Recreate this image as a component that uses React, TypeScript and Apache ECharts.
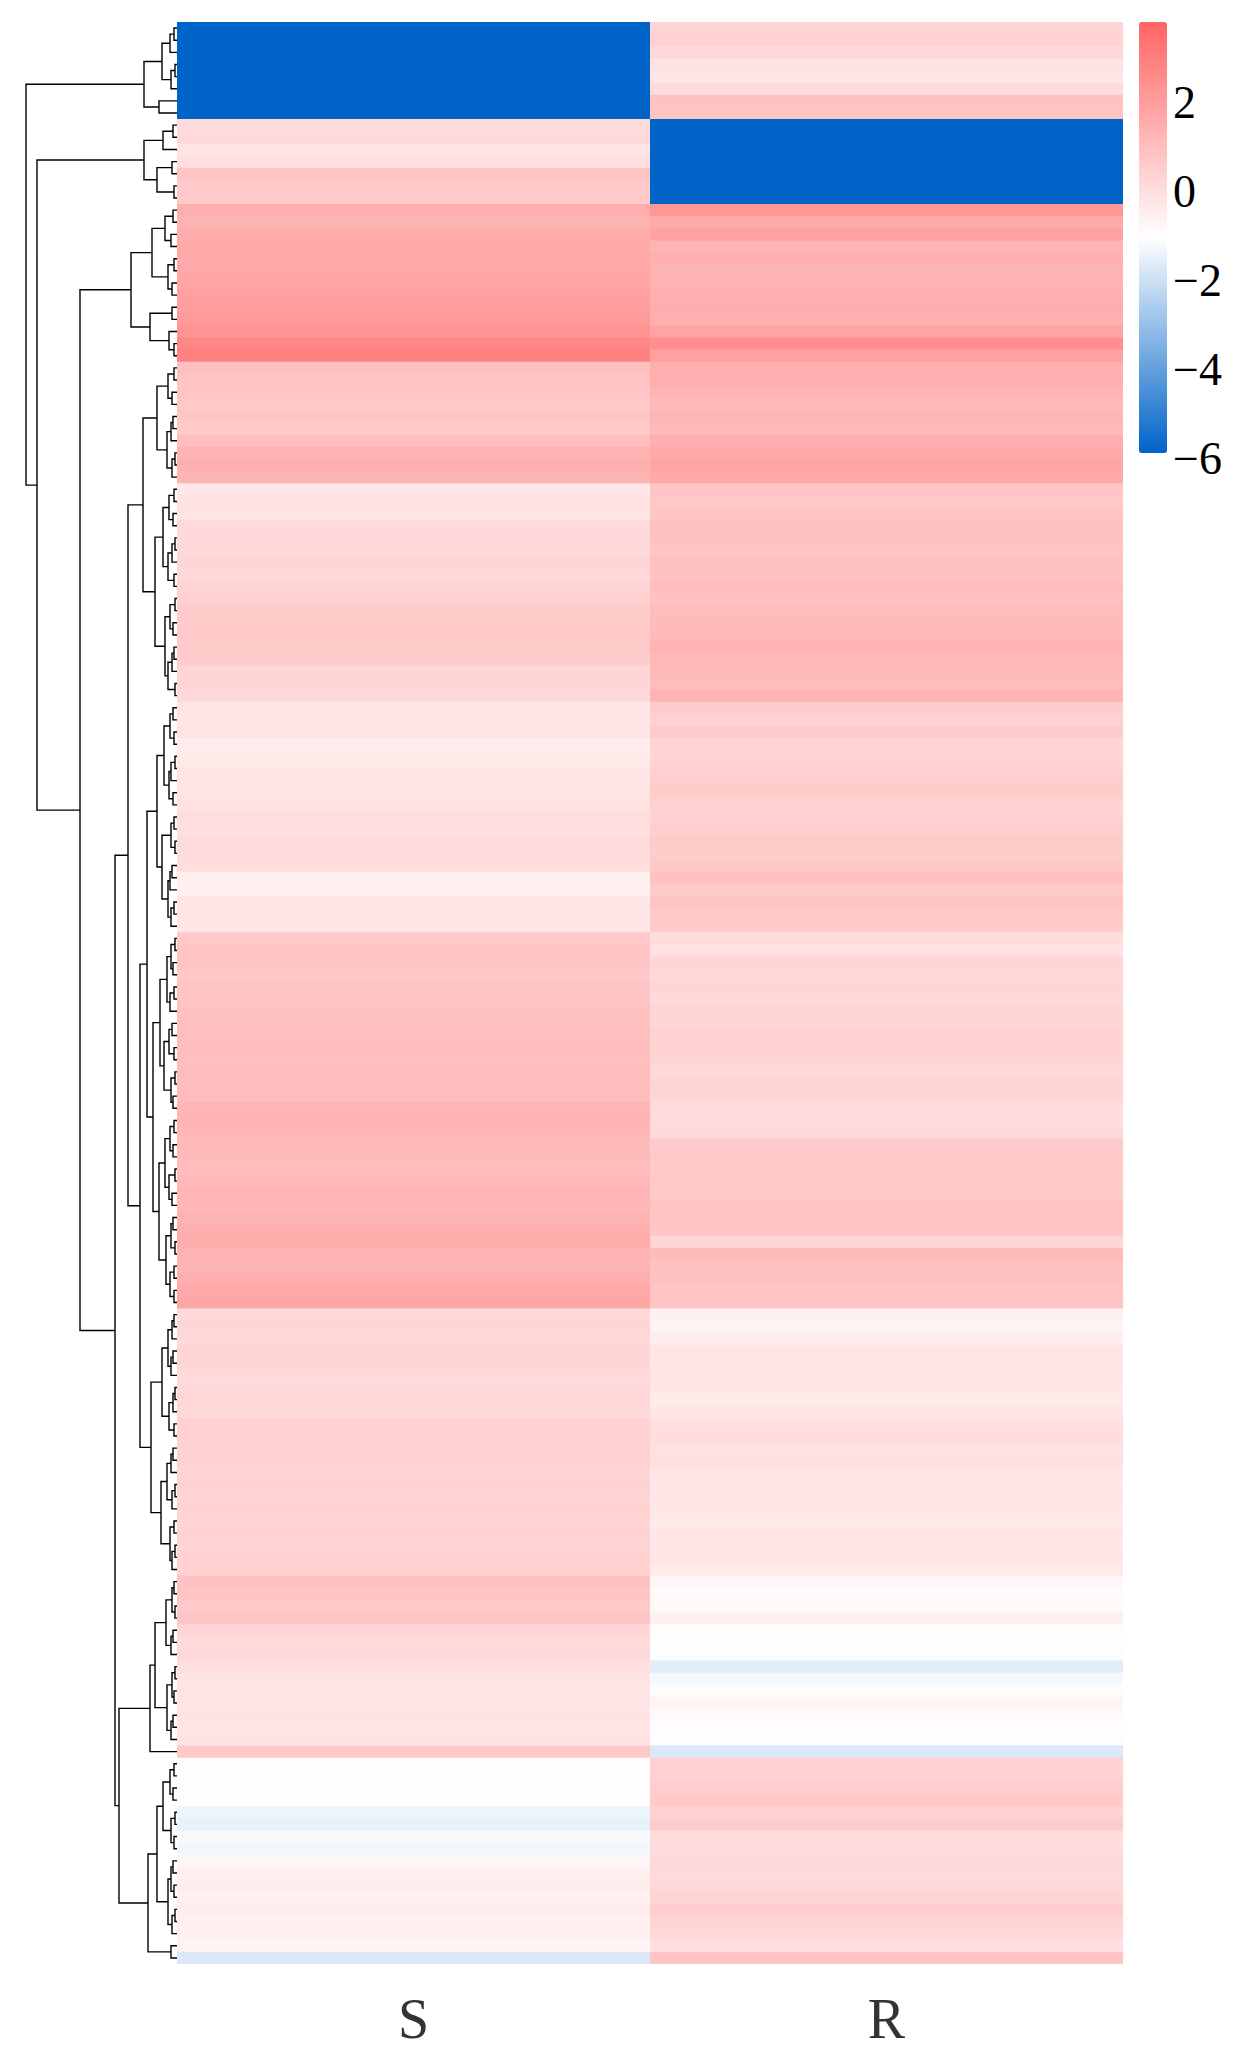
import React, { useEffect, useRef } from 'react';
import * as echarts from 'echarts';

// ---------- data ----------
const COLUMNS = ['S', 'R'];

const S_VALUES = [
  -5.9, -5.9, -5.9, -5.9, -5.9, -5.9, -5.9, -5.9,
  0.05, 0.15, -0.25, -0.05, 0.8, 0.6, 0.65,
  1.5, 1.3, 1.55, 1.65, 1.6, 1.7, 1.7, 1.9, 2.0, 2.1, 2.3, 2.75, 2.9,
  0.95, 0.8, 0.75, 0.65, 0.75, 0.6, 0.95, 1.3, 1.45, 1.3,
  -0.3, -0.15, -0.2, 0.1, 0.15, 0.15, 0.25, 0.15, 0.3, 0.4, 0.6, 0.55, 0.65, 0.6, 0.55, 0.3, 0.25, 0.15,
  -0.25, -0.3, -0.2, -0.5, -0.4, -0.3, -0.25, -0.2, -0.15, 0.0, -0.05, 0.05, 0.05, 0.0, -0.55, -0.6, -0.3, -0.25, -0.3,
  0.65, 0.8, 0.75, 0.65, 0.75, 0.8, 0.85, 0.95, 0.95, 1.0, 0.95, 1.05, 1.0, 1.05, 1.25, 1.3, 1.2, 1.1, 1.1, 1.05, 1.15, 1.25, 1.2, 1.3, 1.5, 1.55, 1.35, 1.3, 1.45, 1.65, 1.7,
  0.15, 0.25, 0.15, 0.25, 0.3, 0.1, 0.15, 0.25, 0.15, 0.4, 0.4, 0.35, 0.4, 0.3, 0.35, 0.3, 0.4, 0.3, 0.35, 0.3, 0.4, 0.35,
  0.85, 0.75, 0.65, 0.8, 0.25, 0.1, 0.15, -0.05, -0.2, -0.2, -0.25, -0.15, -0.25, -0.15, 0.65,
  -0.95, -1.0, -0.95, -1.1, -1.4, -1.5, -1.2, -1.3, -0.8, -0.55, -0.5, -0.6, -0.5, -0.55, -0.6, -0.7, -1.75,
];

const R_VALUES = [
  0.3, 0.4, 0.15, -0.15, -0.25, 0.05, 0.9, 0.75,
  -5.9, -5.9, -5.9, -5.9, -5.9, -5.9, -5.9,
  2.2, 1.65, 1.9, 1.3, 1.45, 1.25, 1.3, 1.45, 1.55, 1.45, 1.8, 2.5, 1.9,
  1.45, 1.5, 1.3, 1.15, 1.25, 1.15, 1.45, 1.65, 1.8, 1.65,
  0.8, 0.65, 0.8, 0.85, 0.9, 0.8, 0.9, 0.85, 1.0, 0.9, 1.05, 1.1, 1.1, 1.3, 1.15, 1.15, 1.05, 1.3,
  0.55, 0.4, 0.6, 0.3, 0.3, 0.4, 0.5, 0.55, 0.4, 0.4, 0.5, 0.6, 0.55, 0.65, 0.9, 0.6, 0.75, 0.65, 0.6,
  0.0, -0.1, 0.25, 0.15, 0.25, 0.15, 0.3, 0.25, 0.4, 0.35, 0.3, 0.15, 0.3, 0.25, 0.05, 0.0, 0.15, 0.6, 0.65, 0.6, 0.65, 0.6, 0.75, 0.8, 0.75, 0.25, 1.1, 0.9, 0.85, 0.8, 0.8,
  -0.6, -0.7, -0.5, -0.2, -0.25, -0.25, -0.3, -0.4, -0.25, -0.05, 0.0, -0.1, -0.05, -0.25, -0.3, -0.25, -0.3, -0.4, -0.25, -0.3, -0.25, -0.4,
  -0.8, -0.85, -0.85, -0.6, -0.95, -1.0, -1.1, -1.6, -1.25, -0.95, -0.7, -0.85, -1.0, -0.95, -1.75,
  0.4, 0.4, 0.5, 0.65, 0.4, 0.55, 0.05, 0.05, 0.15, 0.1, 0.15, 0.3, 0.5, 0.3, 0.15, -0.05, 0.8,
];

const COLOR_MIN = -5.9;
const COLOR_MAX = 3.8;
const COLORS = ['#0063C8', '#FFFFFF', '#FF6464'];
const COLORBAR_AXIS_MIN = -6;
const COLORBAR_AXIS_MAX = 4;
const COLORBAR_STEP = 2;

// ---------- dendrogram (row clustering): merge(left, right, height), leaves in row order ----------
type TNode = null | { l: TNode; r: TNode; h: number };
const L: TNode = null;
const m = (l: TNode, r: TNode, h: number): TNode => ({ l, r, h });

const T_A = m(m(m(m(L, L, 3), L, 7), m(m(L, L, 2), L, 6), 15), m(L, L, 18), 33);
const T_B1 = m(m(m(L, L, 4), L, 14), m(m(L, L, 5), m(L, L, 3), 20), 33);
const T_C = m(
  m(m(m(L, L, 4), m(L, L, 6), 12), m(m(L, L, 3), m(L, L, 5), 9), 25),
  m(m(L, L, 5), m(L, m(L, L, 3), 8), 27),
  46
);
const T_E1 = m(m(m(L, L, 3), m(L, L, 5), 9), m(m(m(L, L, 4), L, 6), m(m(L, L, 2), L, 5), 10), 20);
const T_NINE_A = m(m(m(L, L, 3), m(L, L, 4), 8), m(m(m(L, L, 2), L, 5), m(L, L, 3), 9), 14);
const T_NINE_B = m(m(m(L, L, 2), m(L, L, 4), 7), m(m(m(L, L, 3), L, 5), m(L, L, 2), 9), 12);
const T_E = m(T_E1, m(T_NINE_A, T_NINE_B, 22), 34);
const T_NINE_C = m(m(m(L, L, 4), m(L, L, 3), 7), m(m(m(L, L, 2), L, 6), m(L, L, 4), 8), 13);
const T_TEN_A = m(m(m(L, L, 3), m(L, L, 2), 6), m(m(m(L, L, 5), L, 7), m(m(L, L, 3), L, 6), 9), 15);
const T_F1A = m(T_NINE_C, T_TEN_A, 20);
const T_SEVEN_A = m(m(m(L, L, 2), m(L, L, 4), 6), m(m(L, L, 3), L, 7), 10);
const T_EIGHT_C = m(m(m(L, L, 5), m(L, L, 3), 8), m(m(L, L, 2), m(L, L, 4), 6), 13);
const T_EIGHT_A = m(m(m(L, L, 3), m(L, L, 4), 7), m(m(L, L, 2), m(L, L, 5), 8), 12);
const T_EIGHT_B = m(m(m(L, L, 4), m(L, L, 2), 6), m(m(L, L, 3), m(L, L, 3), 7), 11);
const T_F1B = m(m(T_SEVEN_A, T_EIGHT_C, 17), m(T_EIGHT_A, T_EIGHT_B, 18), 24);
const T_SIX_A = m(m(m(L, L, 3), L, 5), m(m(L, L, 4), L, 6), 9);
const T_FIVE_A = m(m(m(L, L, 2), L, 4), m(L, L, 3), 8);
const T_SIX_B = m(m(m(L, L, 4), L, 6), m(m(L, L, 2), L, 5), 10);
const T_FIVE_B = m(m(L, L, 3), m(m(L, L, 2), L, 5), 7);
const T_F2 = m(m(T_SIX_A, T_FIVE_A, 15), m(T_SIX_B, T_FIVE_B, 16), 26);
const T_F = m(m(T_F1A, T_F1B, 30), T_F2, 37);
const T_SEVEN_B = m(m(m(L, L, 3), m(L, L, 2), 5), m(m(L, L, 4), L, 6), 11);
const T_SEVEN_C = m(m(m(L, L, 2), m(L, L, 3), 5), m(m(L, L, 4), L, 6), 10);
const T_EIGHT_E = m(m(m(L, L, 3), m(L, L, 4), 7), m(m(L, L, 2), m(L, L, 3), 6), 14);
const T_SEVEN_D = m(m(m(L, L, 4), m(L, L, 3), 6), m(m(L, L, 2), L, 5), 9);
const T_G1 = m(m(T_SEVEN_B, T_SEVEN_C, 22), L, 27);
const T_G2 = m(m(T_EIGHT_E, T_SEVEN_D, 20), m(L, L, 6), 29);
const T_G = m(T_G1, T_G2, 58);
const TREE = m(T_A, m(T_B1, m(T_C, m(m(T_E, T_F, 49), T_G, 62), 97), 140), 151);
const TREE_MAX = 151;

function layoutTree(root: TNode) {
  let leaf = 0;
  const segs: number[][][] = [];
  function walk(n: TNode): { pos: number; h: number } {
    if (n === null) return { pos: leaf++, h: 0 };
    const a = walk(n.l);
    const b = walk(n.r);
    segs.push([[a.h, a.pos], [n.h, a.pos], [n.h, b.pos], [b.h, b.pos]]);
    return { pos: (a.pos + b.pos) / 2, h: n.h };
  }
  walk(root);
  return segs;
}

const FONT = "'Liberation Serif', 'Times New Roman', serif";

export default function App() {
  const ref = useRef<HTMLDivElement>(null);
  useEffect(() => {
    document.body.style.margin = '0';
    const chart = echarts.init(ref.current as HTMLDivElement, null, { renderer: 'svg' });
    const N = S_VALUES.length;
    const rows = S_VALUES.map((_, i) => String(i));
    const data: number[][] = [];
    for (let r = 0; r < N; r++) {
      data.push([0, r, S_VALUES[r]]);
      data.push([1, r, R_VALUES[r]]);
    }
    const segs = layoutTree(TREE);
    const option: any = {
      animation: false,
      backgroundColor: '#ffffff',
      grid: [
        { left: 177, top: 22, width: 946, height: 1942 },
        { left: 26, top: 22, width: 151, height: 1942 },
        { left: 1139, top: 13, width: 28, height: 445 },
      ],
      xAxis: [
        {
          gridIndex: 0,
          type: 'category',
          data: COLUMNS,
          axisLine: { show: false },
          axisTick: { show: false },
          splitLine: { show: false },
          axisLabel: { fontSize: 56, fontFamily: FONT, color: '#333', margin: 27 },
        },
        { gridIndex: 1, type: 'value', min: 0, max: TREE_MAX, inverse: true, show: false },
        { gridIndex: 2, type: 'value', min: 0, max: 1, show: false },
      ],
      yAxis: [
        { gridIndex: 0, type: 'category', data: rows, inverse: true, show: false },
        { gridIndex: 1, type: 'value', min: -0.5, max: N - 0.5, inverse: true, show: false },
        {
          gridIndex: 2,
          type: 'value',
          position: 'right',
          min: COLORBAR_AXIS_MIN,
          max: COLORBAR_AXIS_MAX,
          interval: COLORBAR_STEP,
          axisLine: { show: false },
          axisTick: { show: false },
          splitLine: { show: false },
          axisLabel: {
            showMaxLabel: false,
            fontSize: 46,
            fontFamily: FONT,
            color: '#000',
            margin: 6,
            formatter: (v: number) => (v < 0 ? '\u2212' + Math.abs(v) : String(v)),
          },
        },
      ],
      visualMap: {
        type: 'continuous',
        min: COLOR_MIN,
        max: COLOR_MAX,
        seriesIndex: 0,
        dimension: 2,
        orient: 'vertical',
        left: 1139,
        top: 22,
        itemWidth: 28,
        itemHeight: 431,
        padding: 0,
        calculable: false,
        inRange: { color: COLORS },
      },
      series: [
        {
          type: 'custom',
          xAxisIndex: 0,
          yAxisIndex: 0,
          data,
          silent: true,
          renderItem: (params: any, api: any) => {
            const xi = api.value(0);
            const yi = api.value(1);
            const p = api.coord([xi, yi]);
            const s = api.size([1, 1]);
            const overlap = yi < N - 1 ? 1 : 0;
            return {
              type: 'rect',
              shape: { x: p[0] - s[0] / 2, y: p[1] - s[1] / 2, width: s[0], height: s[1] + overlap },
              style: { fill: api.visual('color'), stroke: null },
            };
          },
        },
        {
          type: 'lines',
          coordinateSystem: 'cartesian2d',
          xAxisIndex: 1,
          yAxisIndex: 1,
          polyline: true,
          silent: true,
          data: segs.map((c) => ({ coords: c })),
          lineStyle: { color: '#000', width: 1.4, opacity: 1 },
        },
      ],
    };
    chart.setOption(option);
    return () => chart.dispose();
  }, []);
  return <div ref={ref} style={{ width: 1236, height: 2057 }} />;
}
